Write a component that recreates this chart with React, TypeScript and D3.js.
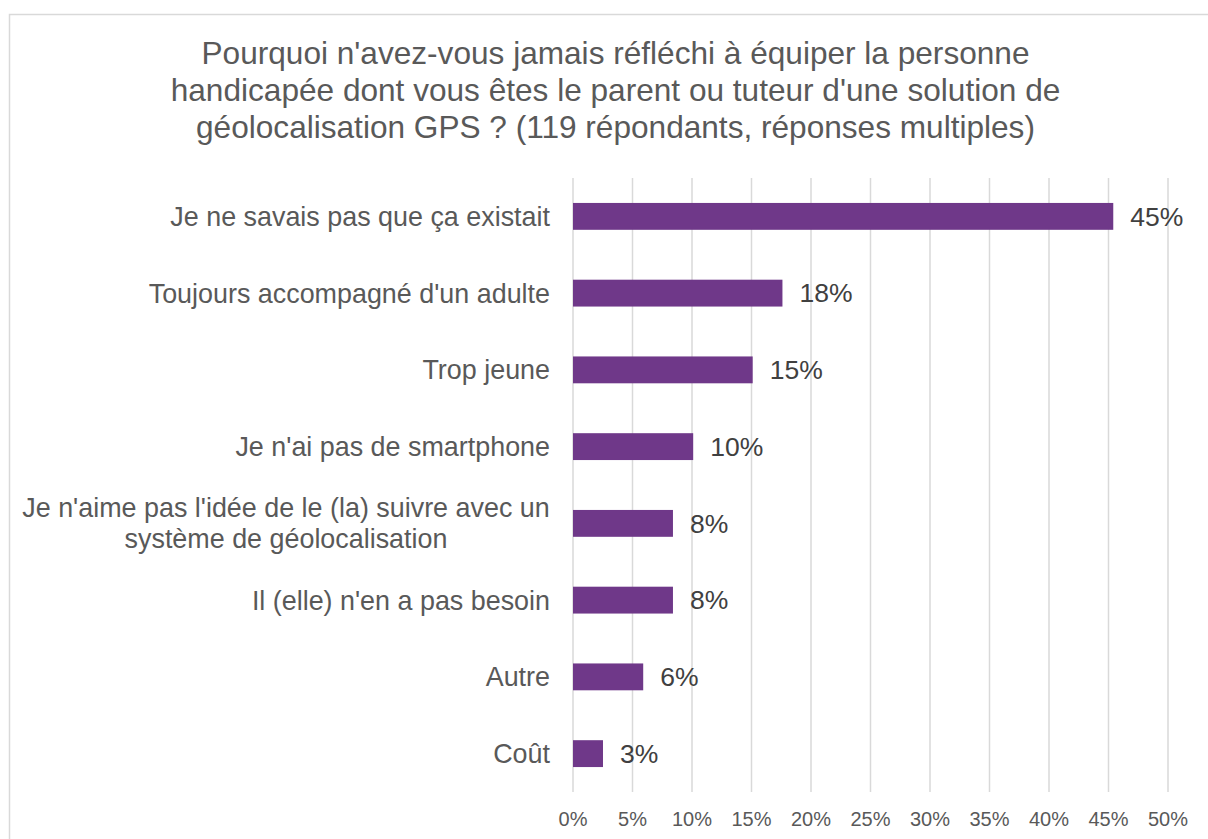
import React from "react";
import * as d3 from "d3";

const categories: string[][] = [
  ["Je ne savais pas que ça existait"],
  ["Toujours accompagné d'un adulte"],
  ["Trop jeune"],
  ["Je n'ai pas de smartphone"],
  ["Je n'aime pas l'idée de le (la) suivre avec un", "système de géolocalisation"],
  ["Il (elle) n'en a pas besoin"],
  ["Autre"],
  ["Coût"],
];
const values: number[] = [45.4, 17.6, 15.1, 10.1, 8.4, 8.4, 5.9, 2.52];
const ticks: number[] = [0, 5, 10, 15, 20, 25, 30, 35, 40, 45, 50];
const titleLines: string[] = [
  "Pourquoi n'avez-vous jamais réfléchi à équiper la personne",
  "handicapée dont vous êtes le parent ou tuteur d'une solution de",
  "géolocalisation GPS ? (119 répondants, réponses multiples)",
];

const W = 1208;
const H = 839;
const FONT = "'Liberation Sans', Arial, sans-serif";

export default function App() {
  const x = d3.scaleLinear().domain([0, 50]).range([573, 1168]);
  const y = d3
    .scaleBand<number>()
    .domain(d3.range(categories.length))
    .range([178, 792])
    .paddingInner(0.65)
    .paddingOuter(0.325);
  const band = (792 - 178) / categories.length;
  const fmt = d3.format(".0%");
  return (
    <svg
      width={W}
      height={H}
      style={{ position: "absolute", left: 0, top: 0, background: "#fff" }}
      fontFamily={FONT}
    >
      <rect x={9.5} y={14.5} width={W + 20} height={H + 20} fill="#fff" stroke="#D9D9D9" strokeWidth={1.5} />
      <g>
        {titleLines.map((t, i) => (
          <text key={i} x={615.5} y={64 + i * 37} textAnchor="middle" fontSize={31.6} fill="#595959">
            {t}
          </text>
        ))}
      </g>
      <g>
        {ticks.map((t) => (
          <line key={t} x1={x(t)} x2={x(t)} y1={178} y2={792} stroke="#D9D9D9" strokeWidth={1.5} />
        ))}
      </g>
      <g>
        {ticks.map((t) => (
          <text key={t} x={x(t)} y={826} textAnchor="middle" fontSize={20} fill="#595959">
            {t + "%"}
          </text>
        ))}
      </g>
      <g>
        {values.map((v, i) => (
          <rect key={i} x={x(0)} y={y(i)!} width={x(v) - x(0)} height={y.bandwidth()} fill="#6F3889" />
        ))}
      </g>
      <g>
        {values.map((v, i) => (
          <text
            key={i}
            x={x(v) + 17}
            y={y(i)! + y.bandwidth() / 2}
            dy="0.35em"
            fontSize={26.5}
            fill="#404040"
          >
            {fmt(v / 100)}
          </text>
        ))}
      </g>
      <g>
        {categories.map((lines, i) => {
          const cy = 178 + band * (i + 0.5);
          if (lines.length === 1) {
            return (
              <text key={i} x={550} y={cy} dy="0.35em" textAnchor="end" fontSize={26.9} fill="#595959">
                {lines[0]}
              </text>
            );
          }
          const lh = 31;
          return (
            <text key={i} x={286} textAnchor="middle" fontSize={26.9} fill="#595959">
              {lines.map((l, j) => (
                <tspan key={j} x={286} y={cy + (j - (lines.length - 1) / 2) * lh} dy="0.35em">
                  {l}
                </tspan>
              ))}
            </text>
          );
        })}
      </g>
    </svg>
  );
}
